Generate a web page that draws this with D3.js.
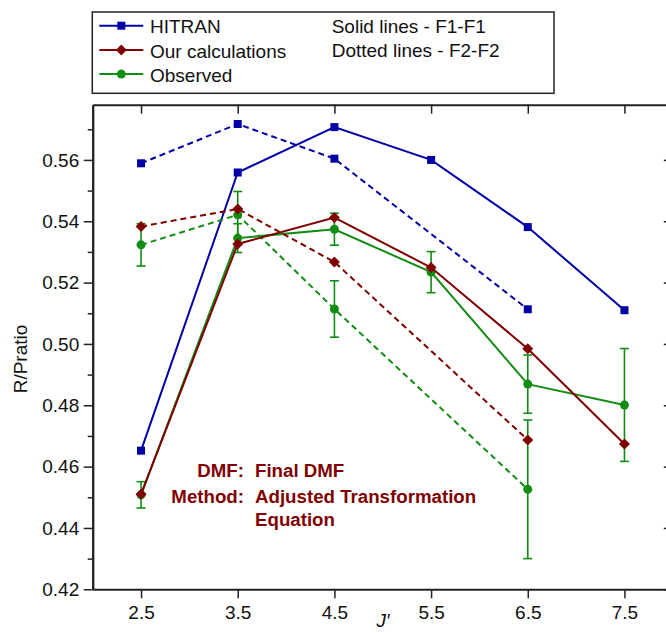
<!DOCTYPE html>
<html>
<head>
<meta charset="utf-8">
<script src="https://cdn.jsdelivr.net/npm/d3@7"></script>
<style>
  body { margin: 0; background: #fff; }
  svg { display: block; font-family: "Liberation Sans", Arial, sans-serif; }
  .axis path, .axis line { stroke: #222; }
  .axis text { font-size: 19px; fill: #111; }
</style>
</head>
<body>
<div id="chart"></div>
<script>
// J' values
var jSolid = [2.5, 3.5, 4.5, 5.5, 6.5, 7.5];
var jDotted = [2.5, 3.5, 4.5, 6.5];

// HITRAN
var hitranSolid = [0.4652, 0.5559, 0.5707, 0.5600, 0.5381, 0.5110];
var hitranDotted = [0.5589, 0.5717, 0.5604, 0.5113];

// our calculations
var calcSolid = [0.4510, 0.5326, 0.5412, 0.5249, 0.4984, 0.4674];
var calcDotted = [0.5383, 0.5440, 0.5267, 0.4687];

// observed, with error bars
var obsSolid = [0.4508, 0.5345, 0.5374, 0.5234, 0.4869, 0.4801];
var obsSolidErr = [0.0043, 0.0047, 0.0052, 0.0067, 0.0095, 0.0184];
var obsDotted = [0.5323, 0.5421, 0.5114, 0.4526];
var obsDottedErr = [0.0069, 0.0076, 0.0092, 0.0226];

var xTicks = [2.5, 3.5, 4.5, 5.5, 6.5, 7.5];
var yTicks = [0.42, 0.44, 0.46, 0.48, 0.50, 0.52, 0.54, 0.56];
var yMinorTicks = [0.43, 0.45, 0.47, 0.49, 0.51, 0.53, 0.55, 0.57];

var legendNames = ['HITRAN', 'Our calculations', 'Observed'];
var legendNotes = ['Solid lines - F1-F1', 'Dotted lines - F2-F2'];
var noteLabels = ['DMF:', 'Method:'];
var noteValues = ['Final DMF', 'Adjusted Transformation', 'Equation'];

var W = 666, H = 633;
var plot = { left: 92.7, right: 672.8, top: 104.7, bottom: 589.3 };

var blue = '#0000a6', red = '#800000', green = '#128c12';

function translation(x, y) {
  return 'translate(' + x + ',' + y + ')';
}

var svg = d3.select('#chart').append('svg')
  .attr('width', W)
  .attr('height', H);

var xScale = d3.scaleLinear().domain([2, 8]).range([plot.left, plot.right]);
var yScale = d3.scaleLinear().domain([0.42, 0.578]).range([plot.bottom, plot.top]);

// AXES
var fmt = d3.format('.2f');

svg.append('g')
  .attr('class', 'axis')
  .attr('transform', translation(plot.left, 0))
  .call(d3.axisLeft(yScale).tickValues(yMinorTicks).tickSize(5).tickSizeOuter(0).tickFormat(''));
svg.append('g')
  .attr('class', 'axis')
  .attr('transform', translation(plot.left, 0))
  .call(d3.axisLeft(yScale).tickValues(yTicks).tickSize(9).tickSizeOuter(0).tickPadding(4.5).tickFormat(fmt));

svg.append('g')
  .attr('class', 'axis')
  .attr('transform', translation(plot.right, 0))
  .call(d3.axisRight(yScale).tickValues(yTicks).tickSize(-9).tickSizeOuter(0).tickFormat(''));

svg.append('g')
  .attr('class', 'axis')
  .attr('transform', translation(0, plot.bottom))
  .call(d3.axisBottom(xScale).tickValues(xTicks).tickSize(9).tickSizeOuter(0).tickPadding(7.5).tickFormat(d3.format('.1f')));

svg.append('g')
  .attr('class', 'axis')
  .attr('transform', translation(0, plot.top))
  .call(d3.axisTop(xScale).tickValues(xTicks).tickSize(-9).tickSizeOuter(0).tickFormat(''));

svg.selectAll('.axis path.domain').attr('stroke-width', 2);
svg.selectAll('.axis line').attr('stroke-width', 1.5);

// axis titles
svg.append('text')
  .attr('transform', translation(27, 359) + 'rotate(-90)')
  .attr('text-anchor', 'middle')
  .style('font-size', '19px')
  .attr('fill', '#111')
  .text('R/Pratio');

svg.append('text')
  .attr('x', 383)
  .attr('y', 627)
  .attr('text-anchor', 'middle')
  .style('font-size', '19px')
  .style('font-style', 'italic')
  .attr('fill', '#111')
  .text('J\u2032');

// SERIES
function pairs(xs, ys, errs) {
  return xs.map(function(x, i) {
    return { x: x, y: ys[i], e: errs ? errs[i] : 0 };
  });
}

var line = d3.line()
  .x(function(d) { return xScale(d.x); })
  .y(function(d) { return yScale(d.y); });

var series = [
  { pts: pairs(jDotted, hitranDotted), color: blue, dash: '6,4', shape: 'square' },
  { pts: pairs(jSolid, hitranSolid), color: blue, dash: null, shape: 'square' },
  { pts: pairs(jDotted, obsDotted, obsDottedErr), color: green, dash: '6,4', shape: 'circle' },
  { pts: pairs(jSolid, obsSolid, obsSolidErr), color: green, dash: null, shape: 'circle' },
  { pts: pairs(jDotted, calcDotted), color: red, dash: '6,4', shape: 'diamond' },
  { pts: pairs(jSolid, calcSolid), color: red, dash: null, shape: 'diamond' }
];

function drawMarker(g, shape, color, cx, cy) {
  if (shape === 'square') {
    g.append('rect')
      .attr('x', cx - 4).attr('y', cy - 4)
      .attr('width', 8).attr('height', 8)
      .attr('fill', color);
  } else if (shape === 'diamond') {
    g.append('path')
      .attr('d', 'M' + cx + ',' + (cy - 5.5) + 'L' + (cx + 5.5) + ',' + cy +
                 'L' + cx + ',' + (cy + 5.5) + 'L' + (cx - 5.5) + ',' + cy + 'Z')
      .attr('fill', color);
  } else {
    g.append('circle')
      .attr('cx', cx).attr('cy', cy).attr('r', 4.5)
      .attr('fill', color);
  }
}

var dataGroup = svg.append('g');

series.forEach(function(s) {
  var g = dataGroup.append('g');
  g.append('path')
    .datum(s.pts)
    .attr('d', line)
    .attr('fill', 'none')
    .attr('stroke', s.color)
    .attr('stroke-width', 2)
    .attr('stroke-dasharray', s.dash);

  // error bars
  s.pts.filter(function(d) { return d.e > 0; }).forEach(function(d) {
    var cx = xScale(d.x), y1 = yScale(d.y + d.e), y2 = yScale(d.y - d.e);
    g.append('line').attr('x1', cx).attr('x2', cx).attr('y1', y1).attr('y2', y2)
      .attr('stroke', s.color).attr('stroke-width', 1.6);
    [y1, y2].forEach(function(yy) {
      g.append('line').attr('x1', cx - 4.5).attr('x2', cx + 4.5).attr('y1', yy).attr('y2', yy)
        .attr('stroke', s.color).attr('stroke-width', 1.6);
    });
  });

  s.pts.forEach(function(d) {
    drawMarker(g, s.shape, s.color, xScale(d.x), yScale(d.y));
  });
});

// LEGEND
var legend = svg.append('g');
legend.append('rect')
  .attr('x', 92.3).attr('y', 12)
  .attr('width', 461.7).attr('height', 81.3)
  .attr('fill', '#fff')
  .attr('stroke', '#222')
  .attr('stroke-width', 1.5);

var legendColors = [blue, red, green];
var legendShapes = ['square', 'diamond', 'circle'];
legendNames.forEach(function(name, i) {
  var ly = 25.7 + i * 24.2;
  legend.append('line')
    .attr('x1', 99.3).attr('x2', 143.3)
    .attr('y1', ly).attr('y2', ly)
    .attr('stroke', legendColors[i]).attr('stroke-width', 2);
  drawMarker(legend, legendShapes[i], legendColors[i], 121.3, ly);
  legend.append('text')
    .attr('x', 150).attr('y', ly + 7.6)
    .style('font-size', '19px')
    .attr('fill', '#111')
    .text(name);
});
legendNotes.forEach(function(note, i) {
  legend.append('text')
    .attr('x', 331.7).attr('y', 33.3 + i * 24)
    .style('font-size', '19px')
    .attr('fill', '#111')
    .text(note);
});

// ANNOTATION
var note = svg.append('g')
  .style('font-size', '18.7px')
  .style('font-weight', 'bold')
  .attr('fill', red);
noteLabels.forEach(function(t, i) {
  note.append('text').attr('x', 244).attr('y', 477 + i * 25.5)
    .attr('text-anchor', 'end').text(t);
});
noteValues.forEach(function(t, i) {
  note.append('text').attr('x', 255).attr('y', [477, 502.5, 526][i]).text(t);
});
</script>
</body>
</html>
